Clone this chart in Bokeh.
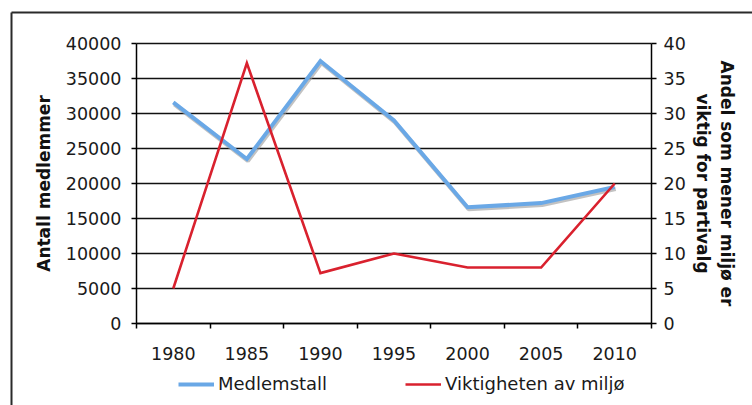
from bokeh.plotting import figure
from bokeh.models import (Range1d, LinearAxis, FixedTicker, Legend, LegendItem)
from bokeh.embed import file_html
from bokeh.resources import INLINE

# ---- data ----
years = [1980, 1985, 1990, 1995, 2000, 2005, 2010]
medlemstall = [31600, 23500, 37500, 29000, 16600, 17200, 19500]
viktighet = [5, 37.2, 7.2, 10, 8, 8, 20]
left_ticks = [0, 5000, 10000, 15000, 20000, 25000, 30000, 35000, 40000]
right_ticks = [0, 5, 10, 15, 20, 25, 30, 35, 40]
series_names = ["Medlemstall", "Viktigheten av miljø"]
left_title = "Antall medlemmer"
right_title = "Andel som mener miljø er\nviktig for partivalg"

BLUE = "#6aa8e6"
RED = "#d9212e"
FONT = "DejaVu Sans"

step = years[1] - years[0]
x0, x1 = years[0] - step / 2, years[-1] + step / 2
boundaries = [y - step / 2 for y in years] + [years[-1] + step / 2]

# canvas layout (pixels)
W, H = 752, 405
BX, BY = 11, 12                  # outer chart border (left / top)
PL, PR, PT, PB = 136, 651, 43, 323   # plotting area of the chart
px_x = (x1 - x0) / (PR - PL)                                # x units / px
px_y = (left_ticks[-1] - left_ticks[0]) / (PB - PT)         # y units / px
xs = x0 - (PL - BX) * px_x
xe = x1 + (W - PR) * px_x
ys = left_ticks[0] - (H - PB) * px_y
ye = left_ticks[-1] + (PT - BY) * px_y
r_ratio = right_ticks[-1] / left_ticks[-1]

p = figure(width=W, height=H, output_backend="svg", toolbar_location=None,
           x_range=Range1d(xs, xe), y_range=Range1d(ys, ye),
           x_axis_location=None, y_axis_location=None,
           min_border_left=BX, min_border_right=0, min_border_top=BY,
           min_border_bottom=0)
p.outline_line_color = None
p.background_fill_color = "white"
p.border_fill_color = "white"

p.extra_y_ranges = {"right": Range1d(ys * r_ratio, ye * r_ratio),
                    "shadow": Range1d(ys + 2 * px_y, ye + 2 * px_y)}
p.extra_x_ranges = {"shadow": Range1d(xs - px_x, xe - px_x)}

# horizontal grid lines, limited to the plotting area
p.xgrid.grid_line_color = None
p.ygrid.grid_line_color = None
n = len(left_ticks)
p.segment(x0=[x0] * n, x1=[x1] * n, y0=left_ticks, y1=left_ticks,
          line_color="#111111", line_width=1.5)

# x axis, fixed on the zero line
xa = LinearAxis(fixed_location=left_ticks[0],
                ticker=FixedTicker(ticks=years, minor_ticks=boundaries))
xa.bounds = (x0, x1)
xa.major_tick_line_color = None
xa.major_tick_out = 0
xa.major_tick_in = 0
xa.minor_tick_out = 5
xa.minor_tick_in = 0
xa.minor_tick_line_color = "black"
xa.minor_tick_line_width = 1.5
xa.axis_line_color = "black"
xa.axis_line_width = 1.5
xa.major_label_text_font = FONT
xa.major_label_text_font_size = "17.5px"
xa.major_label_text_color = "#1a1a1a"
xa.major_label_standoff = 18
p.add_layout(xa, "below")

# left axis
ya = LinearAxis(fixed_location=x0, ticker=FixedTicker(ticks=left_ticks))
ya.bounds = (left_ticks[0], left_ticks[-1])
ya.minor_tick_line_color = None
ya.major_tick_out = 5
ya.major_tick_in = 0
ya.major_tick_line_color = "black"
ya.major_tick_line_width = 1.5
ya.axis_line_color = "black"
ya.axis_line_width = 1.5
ya.major_label_text_font = FONT
ya.major_label_text_font_size = "17.5px"
ya.major_label_text_color = "#1a1a1a"
ya.major_label_standoff = 10
ya.axis_label = left_title
ya.axis_label_text_font = FONT
ya.axis_label_text_font_style = "bold"
ya.axis_label_text_font_size = "17px"
ya.axis_label_text_color = "#111111"
ya.axis_label_standoff = 9
p.add_layout(ya, "left")

# right axis
ra = LinearAxis(fixed_location=x1, y_range_name="right",
                ticker=FixedTicker(ticks=right_ticks))
ra.bounds = (right_ticks[0], right_ticks[-1])
ra.minor_tick_line_color = None
ra.major_tick_out = 5
ra.major_tick_in = 0
ra.major_tick_line_color = "black"
ra.major_tick_line_width = 1.5
ra.axis_line_color = "black"
ra.axis_line_width = 1.5
ra.major_label_text_font = FONT
ra.major_label_text_font_size = "17.5px"
ra.major_label_text_color = "#1a1a1a"
ra.major_label_standoff = 7
ra.axis_label = right_title
ra.axis_label_text_font = FONT
ra.axis_label_text_font_style = "bold"
ra.axis_label_text_font_size = "17px"
ra.axis_label_text_color = "#111111"
ra.axis_label_text_line_height = 1.2
ra.axis_label_standoff = 4
p.add_layout(ra, "right")

# lines
p.line(years, medlemstall, x_range_name="shadow", y_range_name="shadow",
       line_color="#9a9a9a", line_alpha=0.6, line_width=4)
r1 = p.line(years, medlemstall, line_color=BLUE, line_width=4, line_join="miter")
r2 = p.line(years, viktighet, y_range_name="right", line_color=RED,
            line_width=2.6, line_join="miter")

legend = Legend(items=[LegendItem(label=series_names[0], renderers=[r1]),
                       LegendItem(label=series_names[1], renderers=[r2])],
                orientation="horizontal", location=(178 - BX, 11),
                glyph_width=36, glyph_height=20, label_standoff=4, spacing=78,
                padding=0, margin=0, border_line_color=None,
                background_fill_alpha=0,
                label_text_font=FONT, label_text_font_size="18px",
                label_text_color="#1a1a1a")
p.add_layout(legend, "center")

# ---- outer chart border (left & top edges) as bare axis rules ----
def bare_axis(**kw):
    a = LinearAxis(ticker=FixedTicker(ticks=[]), **kw)
    a.major_tick_out = 0
    a.major_tick_in = 0
    a.major_tick_line_color = None
    a.minor_tick_line_color = None
    a.major_label_standoff = 0
    a.axis_line_color = "#2a2a2a"
    a.axis_line_width = 2
    return a


p.add_layout(bare_axis(), "above")
p.add_layout(bare_axis(), "left")

open("out.html", "w").write(file_html(p, INLINE))
